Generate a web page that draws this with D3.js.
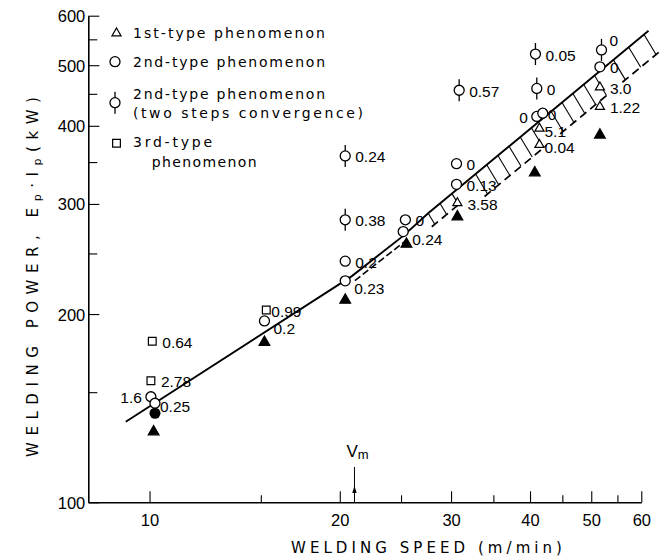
<!DOCTYPE html>
<html>
<head>
<meta charset="utf-8">
<script src="https://cdn.jsdelivr.net/npm/d3@7/dist/d3.min.js"></script>
<style>
  body { margin: 0; background: #fff; }
  text { fill: #000; }
</style>
</head>
<body>
<svg id="chart" width="666" height="558"></svg>
<script>
// --- DATA: [speed m/min, power kW, label, label placement] --- //
var firstType = [
	[30.7, 301, "3.58", "r"], [41.4, 396, "5.1", "n"], [41.4, 373, "0.04", "n"],
	[51.6, 461, "3.0", "r"], [51.6, 429, "1.22", "r"]
];
var secondType = [
	[10.05, 147.5, "1.6", "l"], [10.2, 144, "0.25", "n"], [15.2, 195, "0.2", "b"],
	[20.4, 243, "0.2", "r"], [20.4, 226, "0.23", "b"], [25.4, 283, "0", "r"],
	[25.2, 271, "0.24", "b"], [30.6, 348, "0", "r"], [30.6, 322.5, "0.13", "r"],
	[41.0, 414, "0", "l"], [41.9, 419, "0", "u"], [51.6, 497, "0", "r"]
];
var secondTypeTwoStep = [
	[20.4, 358, "0.24", "r"], [20.4, 283, "0.38", "r"], [30.9, 456, "0.57", "r"],
	[40.8, 521, "0.05", "r"], [41.0, 459, "0", "r"], [51.9, 529, "0", "t"]
];
var thirdType = [
	[10.1, 181, "0.64", "r"], [10.05, 156.5, "2.78", "r"], [15.3, 203, "0.99", "u"]
];
var noPhenomenon = [
	[10.15, 129.7], [15.2, 180.3], [20.4, 210.6], [25.5, 258.8],
	[30.7, 286.2], [40.7, 336.5], [51.6, 386.7]
];
var filledCircle = [[10.2, 138.8]];

// boundary line and the hatched transition zones along it
var boundaryLine = [[9.17, 134.5], [20.9, 230], [25.2, 266.7], [27.6, 289.8], [61.6, 567.6]];
var doubleZone = [20.9, 25.2];
var hatchZones = [[27.6, 30.1, 3], [32.8, 40.2, 6], [43.2, 50.6, 5], [54.2, 60.6, 3]];

var xMajor = [10, 20, 30, 40, 50, 60],
	xMinor = [15, 25, 35, 45, 55],
	yMajor = [100, 200, 300, 400, 500, 600],
	yMinor = [150, 250, 350, 450, 550],
	vmSpeed = 21.1;

var svg = d3.select("#chart");
var x = d3.scaleLog().domain([8, 60]).range([88.3, 641.3]),
	y = d3.scaleLog().domain([100, 600]).range([502.3, 15.7]);

var numFont = "'Liberation Sans', Arial, sans-serif",
	typeFont = "'DejaVu Sans', sans-serif";

// --- AXES --- //
var gx = svg.append("g").attr("transform", "translate(0," + y(100) + ")")
	.call(d3.axisBottom(x).tickValues(xMajor).tickFormat(d3.format("d"))
		.tickSizeInner(-11).tickSizeOuter(0).tickPadding(12));
gx.append("g").call(d3.axisBottom(x).tickValues(xMinor).tickFormat("")
	.tickSizeInner(-7).tickSizeOuter(0)).select(".domain").remove();

var gy = svg.append("g").attr("transform", "translate(" + x(8) + ",0)")
	.call(d3.axisLeft(y).tickValues(yMajor).tickFormat(d3.format("d"))
		.tickSizeInner(-11).tickSizeOuter(0).tickPadding(3));
gy.append("g").call(d3.axisLeft(y).tickValues(yMinor).tickFormat("")
	.tickSizeInner(-9).tickSizeOuter(0)).select(".domain").remove();

svg.selectAll(".domain").attr("stroke", "#000").attr("stroke-width", 1.6);
svg.selectAll(".tick line").attr("stroke", "#000").attr("stroke-width", 1.1);
svg.selectAll(".tick text").attr("font-family", numFont).attr("font-size", 16.5).attr("fill", "#000");
gy.selectAll(".tick text").attr("dy", "0.36em");

// fit text to a measured width by spreading letters
function fitText(sel, width) {
	sel.each(function() {
		var node = this, n = node.textContent.length;
		var w = node.getComputedTextLength();
		d3.select(node).attr("letter-spacing", ((width - w) / (n - 1)).toFixed(2));
	});
}

// axis titles
var xt = svg.append("text").attr("x", 291).attr("y", 553)
	.attr("font-family", typeFont).attr("font-size", 15)
	.text("WELDING SPEED (m/min)");
fitText(xt, 271);

var yt = svg.append("text").attr("transform", "translate(38,457) rotate(-90)")
	.attr("font-family", typeFont).attr("font-size", 15);
yt.append("tspan").text("WELDING POWER, E");
yt.append("tspan").attr("font-size", 11).attr("dy", 3).text("p");
yt.append("tspan").attr("dy", -3).text("\u00b7I");
yt.append("tspan").attr("font-size", 11).attr("dy", 3).text("p");
yt.append("tspan").attr("dy", -3).text("(kW)");
fitText(yt, 360);

// --- MARKERS --- //
function openCircle(g, r) {
	g.append("circle").attr("r", r).attr("fill", "#fff").attr("stroke", "#000").attr("stroke-width", 1.3);
}
function barredCircle(g) {
	g.append("line").attr("y1", -11).attr("y2", 11).attr("stroke", "#000").attr("stroke-width", 1.3);
	openCircle(g, 5);
}
function symbolMark(g, type, size, filled) {
	g.append("path").attr("d", d3.symbol(type, size)())
		.attr("fill", filled ? "#000" : "#fff").attr("stroke", "#000").attr("stroke-width", 1.2);
}
var drawers = {
	tri: function(g) { symbolMark(g, d3.symbolTriangle, 36, false); },
	circ: function(g) { openCircle(g, 5); },
	bar: barredCircle,
	sq: function(g) { symbolMark(g, d3.symbolSquare, 60, false); },
	ftri: function(g) { symbolMark(g, d3.symbolTriangle, 50, true); },
	fcirc: function(g) { g.append("circle").attr("r", 5.5).attr("fill", "#000"); }
};

// --- BOUNDARY LINE --- //
var line = d3.line().x(function(d) { return x(d[0]); }).y(function(d) { return y(d[1]); });
svg.append("path").datum(boundaryLine).attr("d", line)
	.attr("fill", "none").attr("stroke", "#000").attr("stroke-width", 1.9);

// pixel y on the boundary line for a given speed
function lineAt(speed) {
	var px = x(speed);
	for (var i = 0; i < boundaryLine.length - 1; i++) {
		var x0 = x(boundaryLine[i][0]), x1 = x(boundaryLine[i + 1][0]);
		if (px >= x0 && px <= x1) {
			var t = (px - x0) / (x1 - x0);
			return [px, y(boundaryLine[i][1]) + t * (y(boundaryLine[i + 1][1]) - y(boundaryLine[i][1]))];
		}
	}
	return [px, y(boundaryLine[boundaryLine.length - 1][1])];
}

// dashed companion line of the double zone
var d0 = lineAt(doubleZone[0]), d1 = lineAt(doubleZone[1]);
svg.append("line").attr("x1", d0[0] + 3).attr("y1", d0[1] + 4.5).attr("x2", d1[0] + 3).attr("y2", d1[1] + 4.5)
	.attr("stroke", "#000").attr("stroke-width", 1.6).attr("stroke-dasharray", "7,3");

// hatched zones: short strokes down to a dashed lower edge
hatchZones.forEach(function(z, zi) {
	var k = zi === 0 ? 0.55 : 1, hx = 12 * k, hy = 20 * k,
		lo = Math.log(z[0]), hi = Math.log(z[1]), ends = [];
	for (var i = 0; i < z[2]; i++) {
		var p = lineAt(Math.exp(lo + (hi - lo) * i / (z[2] - 1)));
		svg.append("line").attr("x1", p[0]).attr("y1", p[1]).attr("x2", p[0] + hx).attr("y2", p[1] + hy)
			.attr("stroke", "#000").attr("stroke-width", 1.1);
		ends.push([p[0] + hx, p[1] + hy]);
	}
	var a = ends[0], b = ends[ends.length - 1];
	svg.append("line").attr("x1", a[0] - 3).attr("y1", a[1] + 2.4).attr("x2", b[0] + 3).attr("y2", b[1] - 2.4)
		.attr("stroke", "#000").attr("stroke-width", 1.7).attr("stroke-dasharray", "8,5");
});

// --- POINTS AND LABELS --- //
var labelShift = { r: [10, 1], l: [-9, 1], n: [5, 3], u: [5, 1], b: [9, 8], t: [8, -9] };

function plotSeries(data, kind) {
	var g = svg.append("g").selectAll("g").data(data).enter().append("g")
		.attr("transform", function(d) { return "translate(" + x(d[0]) + "," + y(d[1]) + ")"; });
	g.each(function() { drawers[kind](d3.select(this)); });
	g.filter(function(d) { return d[2]; }).append("text")
		.attr("font-family", numFont).attr("font-size", 15.5)
		.attr("text-anchor", function(d) { return d[3] === "l" ? "end" : "start"; })
		.attr("x", function(d) { return labelShift[d[3]][0]; })
		.attr("y", function(d) { return labelShift[d[3]][1] + 5.5; })
		.text(function(d) { return d[2]; });
}
plotSeries(noPhenomenon, "ftri");
plotSeries(filledCircle, "fcirc");
plotSeries(thirdType, "sq");
plotSeries(secondType, "circ");
plotSeries(secondTypeTwoStep, "bar");
plotSeries(firstType, "tri");

// --- Vm MARKER --- //
var vx = x(vmSpeed);
svg.append("line").attr("x1", vx).attr("x2", vx).attr("y1", 467).attr("y2", y(100))
	.attr("stroke", "#000").attr("stroke-width", 1);
svg.append("path").attr("d", "M" + vx + ",486l-2.2,7h4.4z").attr("fill", "#000");
var vm = svg.append("text").attr("x", vx - 8).attr("y", 457).attr("font-family", numFont).attr("font-size", 17);
vm.append("tspan").text("V");
vm.append("tspan").attr("font-size", 13).attr("dy", 2).text("m");

// --- LEGEND --- //
var legendItems = [
	["tri", 116.5, 33.3, [["1st-type phenomenon", 133, 33.3, 192]]],
	["circ", 115, 61.7, [["2nd-type phenomenon", 133, 61.7, 192]]],
	["bar", 115, 102.7, [["2nd-type phenomenon", 133, 94, 192], ["(two steps convergence)", 133, 113.3, 230]]],
	["sq", 116.5, 143.3, [["3rd-type", 133, 141.7, 79], ["phenomenon", 151.7, 161.7, 105]]]
];
legendItems.forEach(function(item) {
	var g = svg.append("g").attr("transform", "translate(" + item[1] + "," + item[2] + ")");
	drawers[item[0]](g);
	item[3].forEach(function(t) {
		var tx = svg.append("text").attr("x", t[1]).attr("y", t[2] + 5)
			.attr("font-family", typeFont).attr("font-size", 14).text(t[0]);
		fitText(tx, t[3]);
	});
});
</script>
</body>
</html>
